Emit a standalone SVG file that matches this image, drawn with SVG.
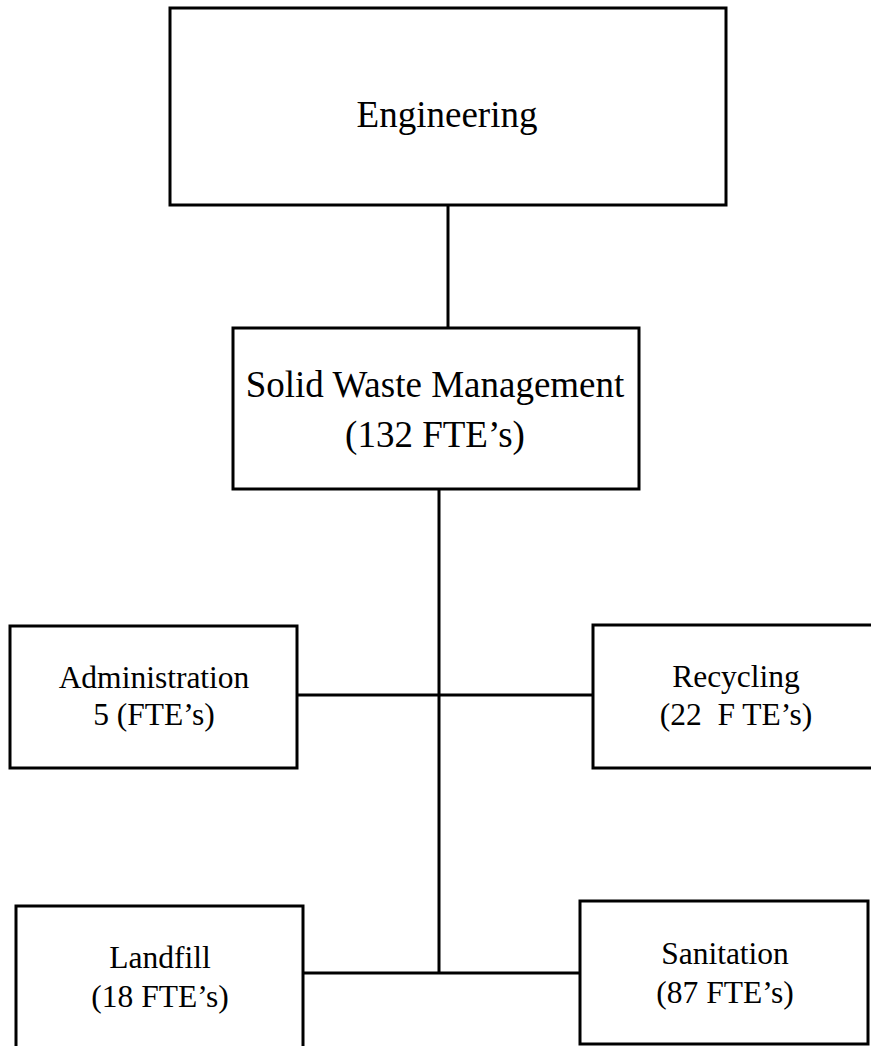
<svg xmlns="http://www.w3.org/2000/svg" width="871" height="1046" viewBox="0 0 871 1046">
<style>
.box{fill:#fff;stroke:#000;stroke-width:3}
.conn{fill:none;stroke:#000;stroke-width:3}
text{font-family:"Liberation Serif","Times New Roman",serif;fill:#000;text-anchor:middle;white-space:pre}
.big{font-size:37px}
.sm{font-size:31.5px}
</style>
<rect width="871" height="1046" fill="#fff"/>
<g id="connectors">
<line class="conn" x1="448" y1="205" x2="448" y2="328"/>
<line class="conn" x1="439" y1="489" x2="439" y2="973"/>
<line class="conn" x1="297" y1="695" x2="593" y2="695"/>
<line class="conn" x1="303" y1="973" x2="580" y2="973"/>
</g>
<g id="engineering">
<rect class="box" x="170" y="8" width="556" height="197"/>
<text class="big" x="447" y="127">Engineering</text>
</g>
<g id="swm">
<rect class="box" x="233" y="328" width="406" height="161"/>
<text class="big" x="435" y="397">Solid Waste Management</text>
<text class="big" x="435" y="447">(132 FTE’s)</text>
</g>
<g id="administration">
<rect class="box" x="10" y="626" width="287" height="142"/>
<text class="sm" x="154" y="688">Administration</text>
<text class="sm" x="154" y="725">5 (FTE’s)</text>
</g>
<g id="recycling">
<rect class="box" x="593" y="625" width="290" height="143"/>
<text class="sm" x="736" y="687">Recycling</text>
<text class="sm" x="736" y="725" xml:space="preserve">(22  F TE’s)</text>
</g>
<g id="landfill">
<rect class="box" x="16" y="906" width="287" height="150"/>
<text class="sm" x="160" y="968">Landfill</text>
<text class="sm" x="160" y="1007">(18 FTE’s)</text>
</g>
<g id="sanitation">
<rect class="box" x="580" y="901" width="288" height="143"/>
<text class="sm" x="725" y="964">Sanitation</text>
<text class="sm" x="725" y="1003">(87 FTE’s)</text>
</g>
</svg>
